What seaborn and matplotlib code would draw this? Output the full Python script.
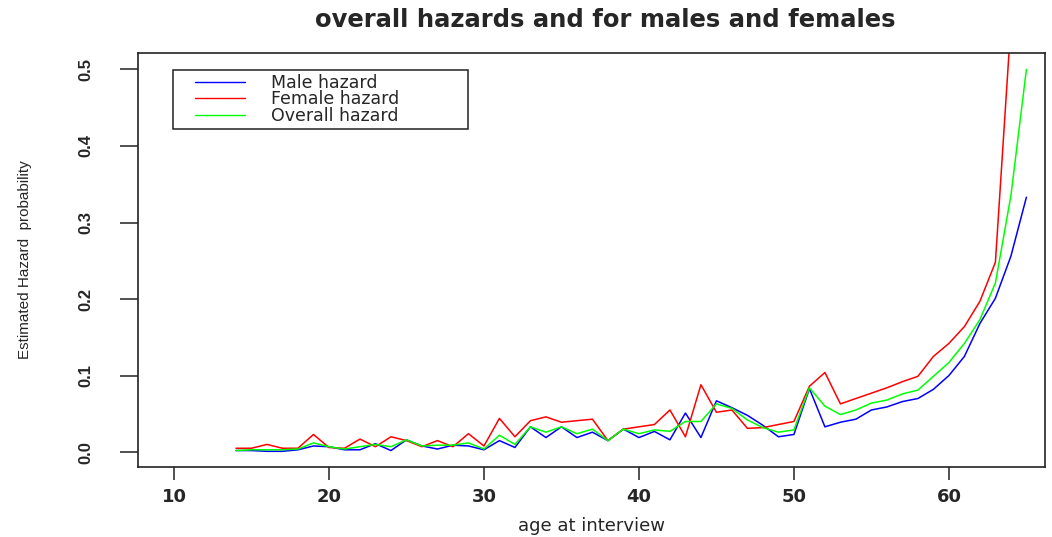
import numpy as np
import pandas as pd
import matplotlib
matplotlib.use("Agg")
import matplotlib.pyplot as plt
from matplotlib.lines import Line2D
from matplotlib.legend_handler import HandlerLine2D
from matplotlib import font_manager
import seaborn as sns

# Age at interview (years)
ages = list(range(14, 66))

# Estimated discrete-time hazard probabilities by age
male_hazard = [
    0.002, 0.002, 0.001, 0.001, 0.003, 0.008, 0.007, 0.003, 0.003, 0.011,
    0.002, 0.016, 0.008, 0.004, 0.009, 0.008, 0.003, 0.015, 0.006, 0.033,
    0.019, 0.033, 0.019, 0.026, 0.015, 0.030, 0.019, 0.027, 0.016, 0.051,
    0.019, 0.067, 0.058, 0.048, 0.035, 0.020, 0.023, 0.083, 0.033, 0.039,
    0.043, 0.055, 0.059, 0.066, 0.070, 0.082, 0.100, 0.125, 0.168, 0.201,
    0.256, 0.333,
]
female_hazard = [
    0.005, 0.005, 0.010, 0.005, 0.005, 0.023, 0.006, 0.005, 0.017, 0.007,
    0.020, 0.015, 0.007, 0.015, 0.007, 0.024, 0.008, 0.044, 0.020, 0.041,
    0.046, 0.039, 0.041, 0.043, 0.015, 0.030, 0.033, 0.036, 0.055, 0.020,
    0.088, 0.052, 0.055, 0.031, 0.032, 0.036, 0.040, 0.086, 0.104, 0.063,
    0.070, 0.077, 0.084, 0.092, 0.099, 0.125, 0.142, 0.164, 0.197, 0.248,
    0.560, 1.000,
]
overall_hazard = [
    0.002, 0.003, 0.003, 0.003, 0.004, 0.012, 0.007, 0.004, 0.007, 0.010,
    0.007, 0.016, 0.008, 0.009, 0.009, 0.012, 0.004, 0.022, 0.010, 0.033,
    0.026, 0.033, 0.024, 0.030, 0.015, 0.030, 0.024, 0.029, 0.027, 0.040,
    0.040, 0.063, 0.057, 0.042, 0.032, 0.026, 0.029, 0.084, 0.060, 0.049,
    0.055, 0.064, 0.068, 0.076, 0.081, 0.099, 0.117, 0.142, 0.173, 0.221,
    0.335, 0.500,
]

series_names = ["Male hazard", "Female hazard", "Overall hazard"]
series_colors = ["#0000FF", "#FF0000", "#00FF00"]

x_ticks = [10, 20, 30, 40, 50, 60]
y_ticks = [0.0, 0.1, 0.2, 0.3, 0.4, 0.5]
y_tick_labels = ["0.0", "0.1", "0.2", "0.3", "0.4", "0.5"]

df = pd.DataFrame({
    "age": ages * 3,
    "hazard": male_hazard + female_hazard + overall_hazard,
    "series": [series_names[0]] * len(ages)
    + [series_names[1]] * len(ages)
    + [series_names[2]] * len(ages),
})

sns.set_style("white")
plt.rcParams["font.family"] = ["DejaVu Sans"]

installed = {f.name for f in font_manager.fontManager.ttflist}
narrow = "Liberation Sans Narrow" if "Liberation Sans Narrow" in installed else "Liberation Sans"

fig = plt.figure(figsize=(10.52, 5.37), dpi=100)
ax = fig.add_axes([138 / 1052, 1 - 467 / 537, 907 / 1052, 414 / 537])

sns.lineplot(
    data=df, x="age", y="hazard", hue="series",
    hue_order=series_names, palette=dict(zip(series_names, series_colors)),
    linewidth=1.1, legend=False, ax=ax, estimator=None,
)

ax.set_xlim(7.68, 66.2)
ax.set_ylim(-0.0195, 0.5215)

for s in ax.spines.values():
    s.set_color("#222222")
    s.set_linewidth(1.2)
    s.set_visible(True)

ax.set_xticks(x_ticks)
ax.set_xticklabels([str(t) for t in x_ticks], fontsize=13, fontweight="bold")
ax.set_yticks(y_ticks)
ax.set_yticklabels(y_tick_labels, rotation=90, va="center",
                   fontsize=12, fontweight="bold", family=[narrow, "DejaVu Sans"])
ax.tick_params(axis="x", direction="out", length=9, width=1.1, pad=6, color="#222222")
ax.tick_params(axis="y", direction="out", length=13, width=1.1, pad=19, color="#222222")
ax.tick_params(bottom=True, left=True)

ax.set_xlabel("age at interview", fontsize=13)
ax.xaxis.set_label_coords(0.5, -0.1425)
ax.xaxis.label.set_va("center")

ax.set_ylabel("Estimated Hazard  probability", fontsize=11,
              family=[narrow, "DejaVu Sans"])
ax.yaxis.set_label_coords(-0.1246, 0.5)
ax.yaxis.label.set_va("center")

ax.set_title("overall hazards and for males and females",
             fontsize=17.5, fontweight="bold", y=1.0797, va="center", pad=0,
             x=0.515)


class InsetLineHandler(HandlerLine2D):
    """Legend line that starts a little inside the handle box."""
    def get_xdata(self, legend, xdescent, ydescent, width, height, fontsize):
        xdata = np.array([-xdescent + 0.26 * width, -xdescent + width])
        return xdata, xdata


handles = [Line2D([], [], color=c, lw=1.0) for c in series_colors]
leg = ax.legend(
    handles, series_names, loc="upper left",
    bbox_to_anchor=(0.039, 0.797, 0.325, 0.162), mode="expand",
    borderaxespad=0, fontsize=12.5, frameon=True, fancybox=False,
    edgecolor="#222222", framealpha=1, labelspacing=-0.08,
    borderpad=0.22, handlelength=3.9, handletextpad=1.5,
    handler_map={Line2D: InsetLineHandler()},
)
leg.get_frame().set_linewidth(1.1)

fig.savefig("out.png", dpi=100)
